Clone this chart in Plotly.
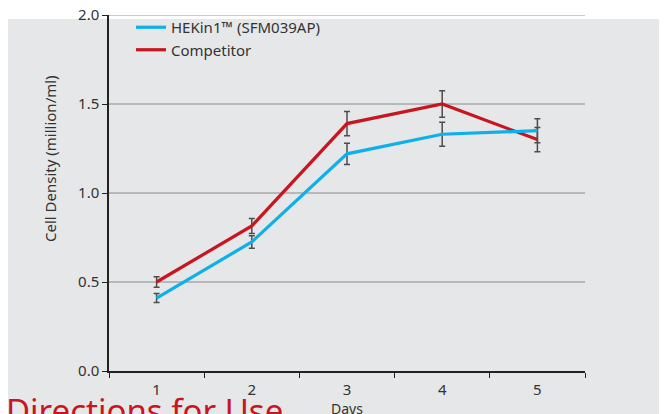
import plotly.graph_objects as go

days = [1, 2, 3, 4, 5]
hekin_values = [0.41, 0.725, 1.22, 1.33, 1.35]
hekin_errors = [0.025, 0.035, 0.06, 0.067, 0.067]
comp_values = [0.50, 0.815, 1.39, 1.50, 1.30]
comp_errors = [0.03, 0.042, 0.068, 0.074, 0.068]
y_ticks = [0.0, 0.5, 1.0, 1.5, 2.0]

W, H = 667, 414
OFF = 8  # page body margin
L, T = 109 - OFF, 15 - OFF
pw, ph = 476, 356
R = W - L - pw
B = H - T - ph


def px_x(s):
    """screenshot x pixel -> paper x"""
    return (s - OFF - L) / pw


def px_y(s):
    """screenshot y pixel -> paper y"""
    return (T + ph - (s - OFF)) / ph


FONT = "Noto Sans"
TXT = "#333333"
RED = "#c7161f"
BLUE = "#0eb0ec"
ERR = "#4d4d4d"
GRID = "#b8b8b8"

fig = go.Figure()
fig.add_trace(go.Scatter(
    x=days, y=comp_values, name="Competitor", mode="lines",
    line=dict(color=RED, width=3.2), legendrank=2,
    error_y=dict(type="data", array=comp_errors, visible=True,
                 color=ERR, thickness=1.5, width=3),
))
fig.add_trace(go.Scatter(
    x=days, y=hekin_values, name="HEKin1™ (SFM039AP)", mode="lines",
    line=dict(color=BLUE, width=3.2), legendrank=1,
    error_y=dict(type="data", array=hekin_errors, visible=True,
                 color=ERR, thickness=1.5, width=3),
))

fig.update_layout(
    width=W, height=H,
    margin=dict(l=L, r=R, t=T, b=B, autoexpand=False),
    paper_bgcolor="white",
    plot_bgcolor="rgba(0,0,0,0)",
    font=dict(family=FONT, size=15, color=TXT),
    showlegend=True,
    legend=dict(x=px_x(131), y=px_y(11), xanchor="left", yanchor="top",
                bgcolor="rgba(0,0,0,0)", font=dict(size=15, color=TXT),
                itemwidth=30, tracegroupgap=0),
    xaxis=dict(
        type="category", range=[-0.5, 4.5], tickson="boundaries",
        ticks="outside", ticklen=5,
        tickwidth=1.2, tickcolor="#222222", showline=True, linecolor="#222222",
        linewidth=1.5, showgrid=False, zeroline=False, ticklabelstandoff=4,
        tickfont=dict(size=15, color=TXT),
        title=dict(text="Days", font=dict(size=14, color=TXT), standoff=0),
    ),
    yaxis=dict(
        range=[0, 2], tickvals=y_ticks, tickformat=".1f", ticks="outside",
        ticklen=5, tickwidth=1.2, tickcolor="#222222", showline=True,
        linecolor="#222222", linewidth=1.5, showgrid=True,
        gridcolor=GRID, gridwidth=1.5, zeroline=False,
        ticklabeloverflow="allow",
        tickfont=dict(size=15, color=TXT),
    ),
    shapes=[
        dict(type="rect", xref="paper", yref="paper", layer="below",
             x0=px_x(7), x1=px_x(W + 20), y0=px_y(H + 20), y1=px_y(19),
             fillcolor="#e6e7e8", line=dict(width=0)),
        dict(type="line", xref="paper", yref="y", layer="below",
             x0=0, x1=1, y0=max(y_ticks), y1=max(y_ticks),
             line=dict(color=GRID, width=1.5)),
    ],
    annotations=[
        dict(text="Cell Density (million/ml)", xref="paper", yref="paper",
             x=px_x(50), y=px_y(159), textangle=-90, showarrow=False,
             font=dict(size=15, color=TXT), xanchor="center", yanchor="middle"),
        dict(text="Directions for Use", xref="paper", yref="paper",
             x=px_x(4), y=px_y(386), xanchor="left", yanchor="top",
             showarrow=False, font=dict(size=33, color=RED)),
    ],
)

fig.write_html("out.html")
